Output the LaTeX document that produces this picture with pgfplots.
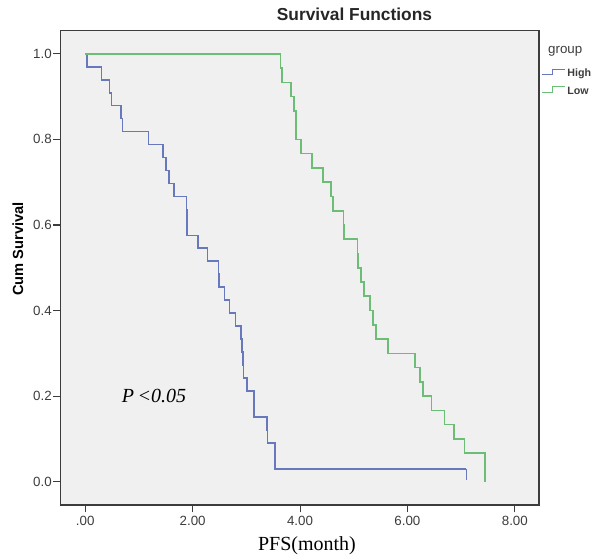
\documentclass[border=0pt]{standalone}
\usepackage{pgfplots}
\pgfplotsset{compat=1.18}
\usepackage{fontspec}
\setmainfont{Liberation Sans}
\newfontfamily\tnr{Liberation Serif}
\definecolor{kmblue}{RGB}{104,120,188}
\definecolor{kmgreen}{RGB}{108,190,118}
\definecolor{bggray}{RGB}{240,240,240}
\definecolor{axgray}{RGB}{60,60,60}
\begin{document}
\begin{tikzpicture}
\path[use as bounding box] (0,0) rectangle (450pt,420pt);
\begin{axis}[
  at={(45.5pt,41.25pt)}, anchor=south west,
  scale only axis, width=358.7pt, height=355.7pt,
  xmin=-0.458, xmax=8.449, ymin=-0.0545, ymax=1.054,
  axis background/.style={fill=bggray},
  axis line style={axgray, line width=1pt},
  tick pos=left, tick align=outside,
  major tick length=5.5pt,
  tick style={axgray, line width=0.8pt},
  xtick={0,2,4,6,8}, xticklabels={.00,2.00,4.00,6.00,8.00},
  ytick={0,0.2,0.4,0.6,0.8,1}, yticklabels={0.0,0.2,0.4,0.6,0.8,1.0},
  ticklabel style={font=\fontsize{10}{12}\selectfont, text=axgray},
  yticklabel style={inner sep=1pt},
  xticklabel style={inner sep=3pt},
  clip=false,
  legend style={at={(1.0063,0.9199)}, anchor=north west, draw=none, fill=none,
    inner sep=0pt, outer sep=0pt, row sep=6pt, column sep=1pt,
    font=\fontsize{8}{9}\selectfont\bfseries,
    nodes={inner sep=0pt, text height=6pt, text depth=1pt, text=axgray},
    cells={anchor=west}},
  legend image code/.code={\draw[#1,line width=0.8pt] (0pt,-1pt) -- (7.5pt,-1pt) -- (7.5pt,3pt) -- (17.25pt,3pt);},
]
\addplot[kmblue, line width=1.2pt, const plot] coordinates {
(0,1) (0.03,0.9697) (0.305,0.9394) (0.448,0.9091) (0.49,0.8788)
(0.666,0.8485) (0.697,0.8182) (1.175,0.7879) (1.443,0.7576) (1.505,0.7273)
(1.555,0.6970) (1.648,0.6667) (1.884,0.6364) (1.89,0.6061) (1.90,0.5758)
(2.096,0.5455) (2.28,0.5152) (2.48,0.4848) (2.49,0.4545) (2.59,0.4242)
(2.69,0.3939) (2.80,0.3636) (2.90,0.3333) (2.92,0.3030) (2.94,0.2727)
(2.95,0.2424) (3.01,0.2121) (3.14,0.1818) (3.145,0.1515) (3.39,0.1212)
(3.395,0.0909) (3.53,0.0606) (3.535,0.0303) (7.10,0.0303)
};
\addlegendentry{High}
\addplot[kmgreen, line width=1.2pt, const plot] coordinates {
(0,1) (3.638,0.9667) (3.66,0.9333) (3.837,0.9) (3.887,0.8667)
(3.92,0.8333) (3.93,0.8) (4.02,0.7667) (4.22,0.7333) (4.43,0.7)
(4.58,0.6667) (4.61,0.6333) (4.81,0.6) (4.815,0.5667) (5.07,0.5333)
(5.08,0.5) (5.14,0.4667) (5.19,0.4333) (5.30,0.4) (5.36,0.3667)
(5.41,0.3333) (5.64,0.3) (6.14,0.2667) (6.23,0.2333) (6.29,0.2)
(6.45,0.1667) (6.69,0.1333) (6.87,0.1) (7.06,0.0667) (7.44,0)
};
\addlegendentry{Low}
\addplot[kmblue, line width=1.2pt, forget plot] coordinates {(7.10,0.0303) (7.10,0.003)};
\node[anchor=base, inner sep=0pt, font=\fontsize{13}{15}\selectfont\bfseries, text=black!85]
  at ([yshift=7.5pt]rel axis cs:0.6143,1) {Survival Functions};
\node[rotate=90, anchor=center, inner sep=0pt, font=\fontsize{11}{13}\selectfont\bfseries]
  at ([xshift=-32pt]rel axis cs:0,0.54) {Cum Survival};
\node[anchor=base, inner sep=0pt, font=\tnr\fontsize{15}{18}\selectfont]
  at ([yshift=-34.5pt]rel axis cs:0.515,0) {PFS(month)};
\node[anchor=base west, inner sep=0pt, font=\fontsize{10}{12}\selectfont, text=axgray]
  at (rel axis cs:1.0188,0.9524) {group};
\node[anchor=center, inner sep=0pt, font=\tnr\itshape\fontsize{15}{18}\selectfont]
  at (axis cs:1.28,0.201) {P\,<0.05};
\end{axis}
\end{tikzpicture}
\end{document}
